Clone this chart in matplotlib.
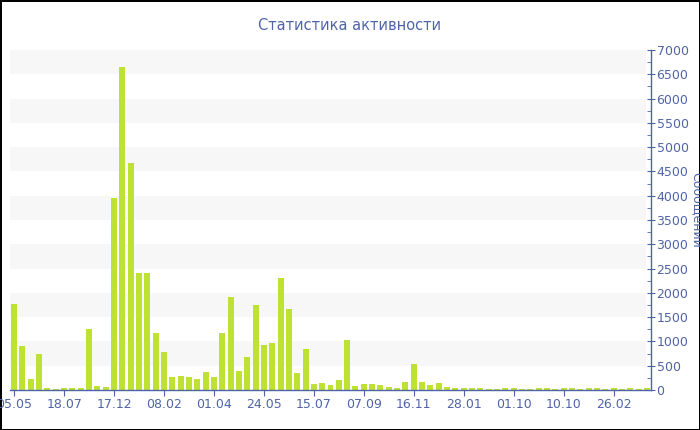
import matplotlib.pyplot as plt
from matplotlib.ticker import MultipleLocator

# messages per period
values = [1770, 915, 233, 750, 48, 27, 34, 34, 34, 1260,
          83, 55, 3958, 6655, 4680, 2416, 2416, 1170, 792, 262,
          289, 275, 220, 372, 262, 1170, 1907, 399, 688, 1742,
          922, 970, 2299, 1659, 358, 840, 117, 138, 96, 206,
          1025, 90, 124, 124, 103, 62, 41, 172, 544, 158,
          103, 151, 62, 41, 38, 36, 41, 28, 28, 32,
          32, 28, 28, 32, 32, 28, 32, 36, 28, 36,
          36, 28, 36, 28, 32, 28, 32]
tick_labels = ['05.05', '18.07', '17.12', '08.02', '01.04', '24.05', '15.07',
               '07.09', '16.11', '28.01', '01.10', '10.10', '26.02']

blue = '#4f64a8'
green = '#bde233'

fig = plt.figure(figsize=(7, 4.3), dpi=100)
fig.patch.set_edgecolor('black')
fig.patch.set_linewidth(2)
ax = fig.add_axes([10 / 700, 40 / 430, 641 / 700, 340 / 430])

# striped background
for lo in range(500, 7000, 1000):
    ax.axhspan(lo, lo + 500, xmin=0, xmax=0.992, color='#f7f7f7', zorder=0, lw=0)

x = list(range(len(values)))
ax.bar(x, values, width=0.72, color=green, zorder=2)

ax.set_xlim(-0.5, len(values) - 0.5)
ax.set_ylim(0, 7000)
ax.set_xticks(x[::6])
ax.set_xticklabels(tick_labels[:len(x[::6])])

ax.yaxis.tick_right()
ax.yaxis.set_major_locator(MultipleLocator(500))
ax.yaxis.set_minor_locator(MultipleLocator(250))

for s in ['left', 'top']:
    ax.spines[s].set_visible(False)
for s in ['right', 'bottom']:
    ax.spines[s].set_color(blue)
    ax.spines[s].set_linewidth(1)

ax.tick_params(axis='y', which='major', direction='inout', length=6, color=blue,
               labelcolor=blue, labelsize=9, pad=1)
ax.tick_params(axis='y', which='minor', direction='in', length=3, color=blue)
ax.tick_params(axis='x', direction='out', length=4, color=blue,
               labelcolor=blue, labelsize=9, pad=2)

fig.text(0.5, 1 - 25 / 430, 'Статистика активности', ha='center', va='center',
         color=blue, fontsize=10.5)
fig.text(696 / 700, 220 / 430, 'Сообщений', ha='center', va='center',
         rotation=270, color=blue, fontsize=9)

fig.savefig('out.png', dpi=100)
